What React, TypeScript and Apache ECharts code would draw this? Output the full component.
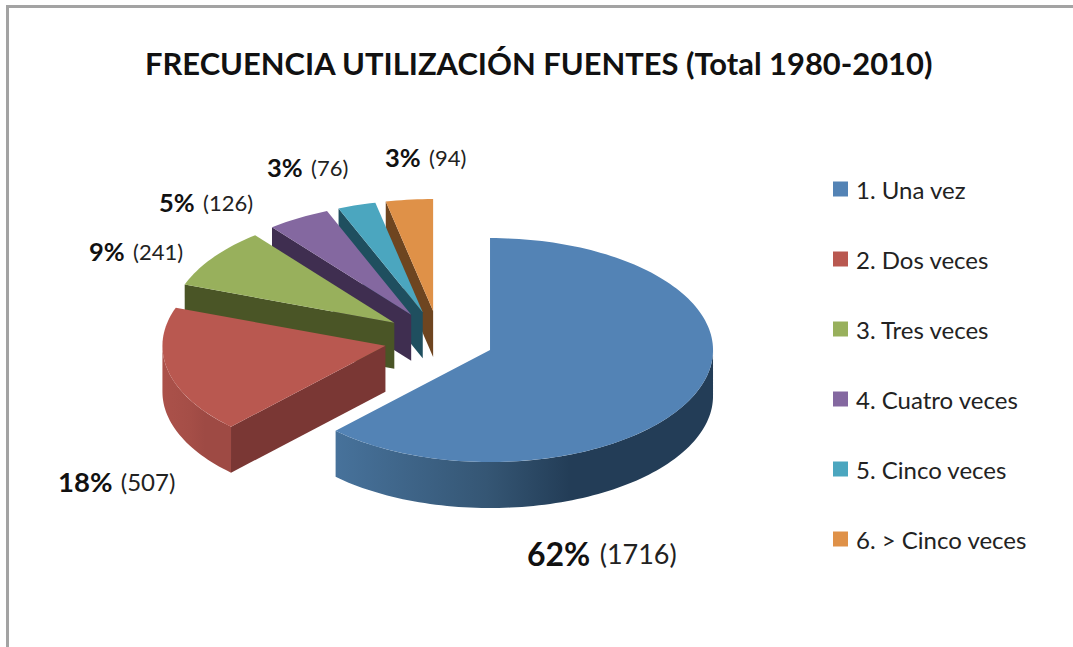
import React, { useEffect, useRef } from "react";
import * as echarts from "echarts";

const TITLE = "FRECUENCIA UTILIZACIÓN FUENTES (Total 1980-2010)";
const categories = ["1. Una vez", "2. Dos veces", "3. Tres veces", "4. Cuatro veces", "5. Cinco veces", "6. > Cinco veces"];
const counts = [1716, 507, 241, 126, 76, 94];
const topColors = ["#5383B5", "#B95850", "#98B05C", "#8468A0", "#4BA6BF", "#DF9148"];
const radialWallColors = ["#233D57", "#7A3734", "#4A5526", "#3F2E50", "#1F4F5F", "#6E4520"];
const outerWallStops: string[][] = [
  ["#47729B", "#355674", "#233D57"],
  ["#AB514A", "#A54E47", "#9E4A44"],
  ["#4A5526", "#4A5526", "#4A5526"],
  ["#3F2E50", "#3F2E50", "#3F2E50"],
  ["#1F4F5F", "#1F4F5F", "#1F4F5F"],
  ["#6E4520", "#6E4520", "#6E4520"],
];
const labelFontSizes = [[32, 27], [27.5, 24], [25.5, 22], [25.5, 22], [25.5, 22], [25.5, 22]];
const labelGaps = [6, 5, 5, 5, 5, 5];
const labelAnchors = [[527, 553], [58, 481], [89, 251], [159, 202], [267, 167], [385, 157]];

const total = counts.reduce((a, b) => a + b, 0);
const CX = 439, CY = 339.4, RX = 223, RY = 112, EX = 55, EY = 28.5, DEPTH = 46;
const FONT = "Lato, 'Open Sans', sans-serif";
const rad = (d: number) => (d * Math.PI) / 180;

function arcPoints(ax: number, ay: number, from: number, to: number, dy = 0) {
  const pts: number[][] = [];
  const n = Math.max(2, Math.ceil(Math.abs(to - from) / 1.5));
  for (let i = 0; i <= n; i++) {
    const t = rad(from + ((to - from) * i) / n);
    pts.push([ax + RX * Math.sin(t), ay - RY * Math.cos(t) + dy]);
  }
  return pts;
}

function renderSlice(idx: number) {
  return (_params: any, api: any) => {
    const value = api.value(0);
    const before = counts.slice(0, idx).reduce((a, b) => a + b, 0);
    const a0 = (before / total) * 360;
    const a1 = a0 + (value / total) * 360;
    const mid = rad((a0 + a1) / 2);
    const ax = CX + EX * Math.sin(mid);
    const ay = CY - EY * Math.cos(mid);
    const children: any[] = [];

    const wf = Math.max(a0, 90);
    const wt = Math.min(a1, 270);
    if (wt > wf) {
      const top = arcPoints(ax, ay, wf, wt);
      const bottom = arcPoints(ax, ay, wt, wf, DEPTH);
      const xs = top.map((p) => p[0]);
      const stops = outerWallStops[idx];
      const leftX = Math.min(...xs);
      const rightX = Math.max(...xs);
      children.push({
        type: "polygon",
        shape: { points: top.concat(bottom) },
        style: {
          fill: {
            type: "linear", global: true,
            x: leftX, y: 0, x2: rightX, y2: 0,
            colorStops: [
              { offset: 0, color: stops[0] },
              { offset: 0.4, color: stops[1] },
              { offset: 0.62, color: stops[2] },
              { offset: 1, color: stops[2] },
            ],
          },
        },
      });
    }
    if (Math.sin(rad(a0)) < -1e-6) {
      const p = arcPoints(ax, ay, a0, a0 + 1)[0];
      children.push({
        type: "polygon",
        shape: { points: [[ax, ay], p, [p[0], p[1] + DEPTH], [ax, ay + DEPTH]] },
        style: { fill: radialWallColors[idx] },
      });
    }
    children.push({
      type: "polygon",
      shape: { points: [[ax, ay], ...arcPoints(ax, ay, a0, a1)] },
      style: { fill: topColors[idx] },
    });
    const pct = Math.round((value / total) * 100);
    const [bold, plain] = labelFontSizes[idx];
    const [lx, ly] = labelAnchors[idx];
    children.push({
      type: "text",
      x: lx,
      y: ly,
      style: {
        text: `{b|${pct}%} {r|(${value})}`,
        verticalAlign: "middle",
        rich: {
          b: { fontFamily: FONT, fontWeight: "bold", fontSize: bold, fill: "#111" },
          r: { fontFamily: FONT, fontSize: plain, fill: "#222", padding: [0, 0, 0, labelGaps[idx]] },
        },
      },
    });
    return { type: "group", children };
  };
}

export default function App() {
  const ref = useRef<HTMLDivElement>(null);
  useEffect(() => {
    document.body.style.margin = "0";
    const chart = echarts.init(ref.current!, undefined, { renderer: "svg" });
    chart.setOption({
      animation: false,
      backgroundColor: "#ffffff",
      title: {
        text: TITLE,
        left: 145,
        top: 48,
        padding: 0,
        textStyle: { fontFamily: FONT, fontWeight: "bold", fontSize: 30.9, color: "#111" },
      },
      legend: {
        orient: "vertical",
        left: 833,
        top: 177,
        padding: 0,
        itemWidth: 15,
        itemHeight: 15,
        itemGap: 46,
        icon: "rect",
        data: categories,
        textStyle: { fontFamily: FONT, fontSize: 24, color: "#222", padding: [3, 0, 0, 3] },
        selectedMode: false,
      },
      graphic: [
        { type: "rect", silent: true, shape: { x: 6, y: 5, width: 1067, height: 3 }, style: { fill: "#A3A3A3" } },
        { type: "rect", silent: true, shape: { x: 6, y: 5, width: 3, height: 642 }, style: { fill: "#A3A3A3" } },
      ],
      series: categories.map((name, i) => ({
        type: "custom",
        name,
        coordinateSystem: "none",
        z: 10 - i,
        silent: true,
        itemStyle: { color: topColors[i] },
        data: [[counts[i]]],
        renderItem: renderSlice(i),
      })),
    });
    return () => chart.dispose();
  }, []);
  return <div ref={ref} style={{ position: "absolute", left: 0, top: 0, width: 1073, height: 647 }} />;
}
